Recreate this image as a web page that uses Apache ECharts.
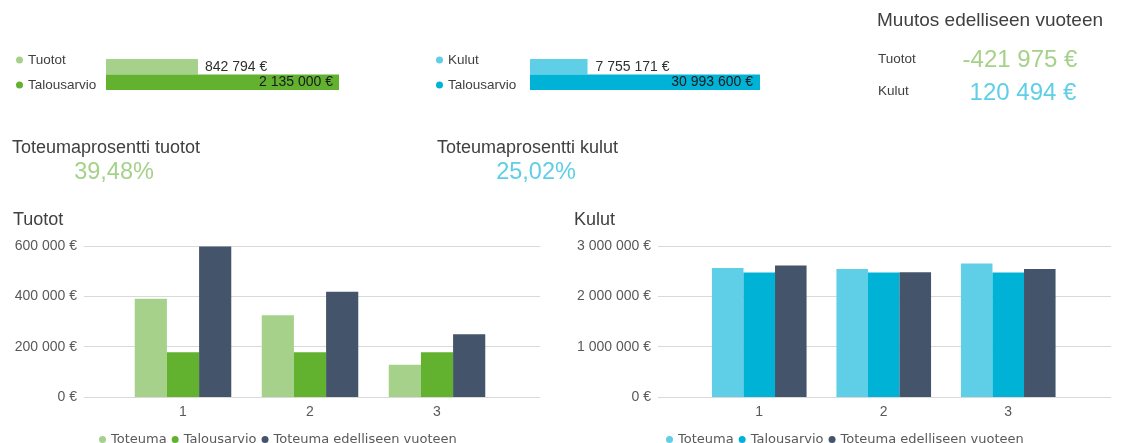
<!DOCTYPE html>
<html>
<head>
<meta charset="utf-8">
<script src="https://cdn.jsdelivr.net/npm/echarts@6/dist/echarts.min.js"></script>
<style>
html,body{margin:0;padding:0;background:#fff;}
#c{width:1123px;height:443px;}
</style>
</head>
<body>
<div id="c"></div>
<script>
// ---- data ----
const categories = ['1', '2', '3'];
const topTuotot = [842794, 2135000];          // Tuotot, Talousarvio
const topKulut = [7755171, 30993600];         // Kulut, Talousarvio
const muutos = [-421975, 120494];             // Tuotot, Kulut change vs previous year
const tuototToteuma = [390000, 325000, 127794];
const tuototBudjetti = [177917, 177917, 177917];
const tuototEdellinen = [598000, 417769, 249000];
const kulutToteuma = [2562000, 2543000, 2650171];
const kulutBudjetti = [2475000, 2475000, 2475000];
const kulutEdellinen = [2612000, 2480000, 2542677];
const tuototTicks = [0, 200000, 400000, 600000];
const kulutTicks = [0, 1000000, 2000000, 3000000];

// ---- style ----
const C = {
  lgreen: '#a6d18b', dgreen: '#62b22f', navy: '#44546a',
  lcyan: '#5ecfe6', cyan: '#00b3d6', text: '#404040', axis: '#595959', grid: '#d9d9d9'
};
const FONT = '"Liberation Sans", Arial, sans-serif';
const LFONT = '"DejaVu Sans", Verdana, sans-serif';

function fmt(v) {
  const s = Math.abs(Math.round(v)).toString().replace(/\B(?=(\d{3})+(?!\d))/g, ' ');
  return (v < 0 ? '-' : '') + s + ' €';
}
function pct(a, b) { return (a / b * 100).toFixed(2).replace('.', ',') + '%'; }

const chart = echarts.init(document.getElementById('c'), null, {renderer: 'canvas'});

function txt(text, x, y, size, color, align) {
  return {type: 'text', x: x, y: y, style: {text: text, font: size + 'px ' + FONT, fill: color,
    textAlign: align || 'left', textVerticalAlign: 'middle'}};
}

const option = {
  animation: false,
  textStyle: {fontFamily: FONT},
  grid: [
    {left: 106, top: 59, width: 233, height: 31},   // 0 top-left bars
    {left: 530, top: 59, width: 230, height: 31},   // 1 top-middle bars
    {left: 84, top: 246, width: 456, height: 151},  // 2 tuotot frame
    {left: 119.5, top: 246, width: 381, height: 151}, // 3 tuotot bars
    {left: 658, top: 246, width: 453, height: 151}, // 4 kulut frame
    {left: 697, top: 246, width: 373.5, height: 151} // 5 kulut bars
  ],
  xAxis: [
    {gridIndex: 0, type: 'value', min: 0, max: topTuotot[1], show: false},
    {gridIndex: 1, type: 'value', min: 0, max: topKulut[1], show: false},
    {gridIndex: 2, type: 'category', data: categories, show: false},
    {gridIndex: 3, type: 'category', data: categories, axisTick: {show: false}, axisLine: {show: false},
      axisLabel: {fontSize: 14, color: C.axis, margin: 8}},
    {gridIndex: 4, type: 'category', data: categories, show: false},
    {gridIndex: 5, type: 'category', data: categories, axisTick: {show: false}, axisLine: {show: false},
      axisLabel: {fontSize: 14, color: C.axis, margin: 8}}
  ],
  yAxis: [
    {gridIndex: 0, type: 'category', data: ['a', 'b'], inverse: true, show: false},
    {gridIndex: 1, type: 'category', data: ['a', 'b'], inverse: true, show: false},
    {gridIndex: 2, type: 'value', min: tuototTicks[0], max: tuototTicks[3], interval: tuototTicks[1],
      axisLabel: {fontSize: 14, color: C.axis, margin: 7, formatter: fmt},
      splitLine: {lineStyle: {color: C.grid}}, axisLine: {show: false}, axisTick: {show: false}},
    {gridIndex: 3, type: 'value', min: tuototTicks[0], max: tuototTicks[3], show: false},
    {gridIndex: 4, type: 'value', min: kulutTicks[0], max: kulutTicks[3], interval: kulutTicks[1],
      axisLabel: {fontSize: 14, color: C.axis, margin: 7, formatter: fmt},
      splitLine: {lineStyle: {color: C.grid}}, axisLine: {show: false}, axisTick: {show: false}},
    {gridIndex: 5, type: 'value', min: kulutTicks[0], max: kulutTicks[3], show: false}
  ],
  legend: [
    {orient: 'vertical', left: 11, top: 47, itemWidth: 7, itemHeight: 7, itemGap: 9, icon: 'circle',
      textStyle: {fontSize: 13.5, lineHeight: 16, color: C.text, fontFamily: FONT},
      data: [{name: 'Tuotot', itemStyle: {color: C.lgreen}}, {name: 'Talousarvio', itemStyle: {color: C.dgreen}}]},
    {orient: 'vertical', left: 431, top: 47, itemWidth: 7, itemHeight: 7, itemGap: 9, icon: 'circle',
      textStyle: {fontSize: 13.5, lineHeight: 16, color: C.text, fontFamily: FONT},
      data: [{name: 'Kulut', itemStyle: {color: C.lcyan}}, {name: 'Talousarvio', itemStyle: {color: C.cyan}}]},
    {left: 94, top: 428, itemWidth: 7, itemHeight: 7, itemGap: 5, icon: 'circle',
      textStyle: {fontSize: 13, color: C.axis, fontFamily: LFONT},
      data: [{name: 'Toteuma', itemStyle: {color: C.lgreen}}, {name: 'Talousarvio', itemStyle: {color: C.dgreen}},
             {name: 'Toteuma edelliseen vuoteen', itemStyle: {color: C.navy}}]},
    {left: 661, top: 428, itemWidth: 7, itemHeight: 7, itemGap: 5, icon: 'circle',
      textStyle: {fontSize: 13, color: C.axis, fontFamily: LFONT},
      data: [{name: 'Toteuma', itemStyle: {color: C.lcyan}}, {name: 'Talousarvio', itemStyle: {color: C.cyan}},
             {name: 'Toteuma edelliseen vuoteen', itemStyle: {color: C.navy}}]}
  ],
  series: [
    {name: 'Tuotot', type: 'bar', xAxisIndex: 0, yAxisIndex: 0, stack: 't', barCategoryGap: '0%',
      data: [topTuotot[0], '-'], itemStyle: {color: C.lgreen},
      label: {show: true, position: 'right', distance: 7, fontSize: 14, color: '#303030', formatter: p => fmt(p.value)}},
    {name: 'Talousarvio', type: 'bar', xAxisIndex: 0, yAxisIndex: 0, stack: 't', barCategoryGap: '0%',
      data: ['-', topTuotot[1]], itemStyle: {color: C.dgreen},
      label: {show: true, position: 'insideRight', distance: 6, fontSize: 14, color: '#1a1a1a', formatter: p => fmt(p.value)}},
    {name: 'Kulut', type: 'bar', xAxisIndex: 1, yAxisIndex: 1, stack: 'k', barCategoryGap: '0%',
      data: [topKulut[0], '-'], itemStyle: {color: C.lcyan},
      label: {show: true, position: 'right', distance: 8, fontSize: 14, color: '#303030', formatter: p => fmt(p.value)}},
    {name: 'Talousarvio', type: 'bar', xAxisIndex: 1, yAxisIndex: 1, stack: 'k', barCategoryGap: '0%',
      data: ['-', topKulut[1]], itemStyle: {color: C.cyan},
      label: {show: true, position: 'insideRight', distance: 7, fontSize: 14, color: '#1a1a1a', formatter: p => fmt(p.value)}},

    {name: 'Toteuma', type: 'bar', xAxisIndex: 3, yAxisIndex: 3, barGap: '0%', barCategoryGap: '24%',
      data: tuototToteuma, itemStyle: {color: C.lgreen}},
    {name: 'Talousarvio', type: 'bar', xAxisIndex: 3, yAxisIndex: 3, barGap: '0%', barCategoryGap: '24%',
      data: tuototBudjetti, itemStyle: {color: C.dgreen}},
    {name: 'Toteuma edelliseen vuoteen', type: 'bar', xAxisIndex: 3, yAxisIndex: 3, barGap: '0%', barCategoryGap: '24%',
      data: tuototEdellinen, itemStyle: {color: C.navy}},

    {name: 'Toteuma', type: 'bar', xAxisIndex: 5, yAxisIndex: 5, barGap: '0%', barCategoryGap: '24%',
      data: kulutToteuma, itemStyle: {color: C.lcyan}},
    {name: 'Talousarvio', type: 'bar', xAxisIndex: 5, yAxisIndex: 5, barGap: '0%', barCategoryGap: '24%',
      data: kulutBudjetti, itemStyle: {color: C.cyan}},
    {name: 'Toteuma edelliseen vuoteen', type: 'bar', xAxisIndex: 5, yAxisIndex: 5, barGap: '0%', barCategoryGap: '24%',
      data: kulutEdellinen, itemStyle: {color: C.navy}}
  ],
  graphic: [
    txt('Muutos edelliseen vuoteen', 877, 21, 19, C.text),
    txt('Tuotot', 878, 59, 13.5, C.text),
    txt(fmt(muutos[0]), 1020, 60, 24, C.lgreen, 'center'),
    txt('Kulut', 878, 91, 13.5, C.text),
    txt(fmt(muutos[1]), 1023, 93, 24, C.lcyan, 'center'),
    txt('Toteumaprosentti tuotot', 12, 148, 18, C.text),
    txt(pct(topTuotot[0], topTuotot[1]), 114, 173, 23.5, C.lgreen, 'center'),
    txt('Toteumaprosentti kulut', 437, 148, 18, C.text),
    txt(pct(topKulut[0], topKulut[1]), 536, 173, 23.5, C.lcyan, 'center'),
    txt('Tuotot', 13, 220, 18, C.text),
    txt('Kulut', 574, 220, 18, C.text)
  ]
};
chart.setOption(option);
</script>
</body>
</html>
